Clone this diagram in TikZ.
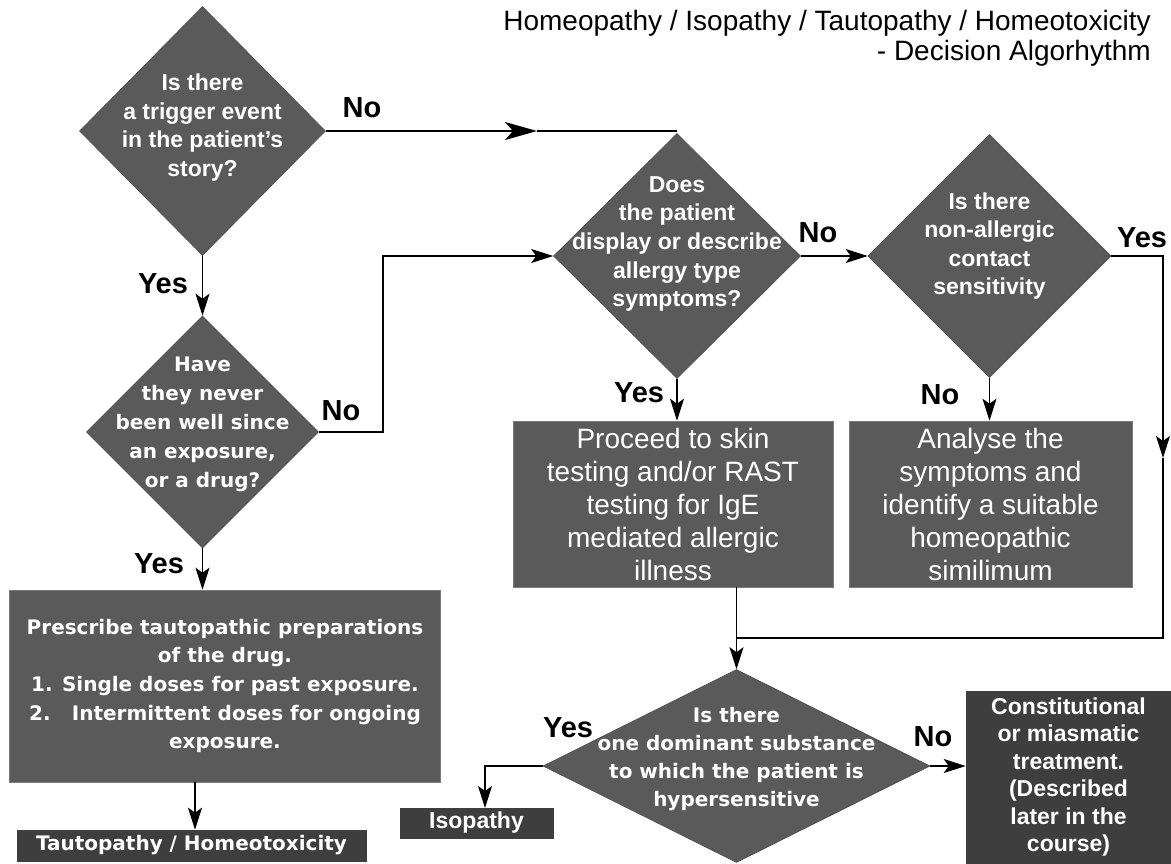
\documentclass[tikz,border=0pt]{standalone}
\usepackage{fontspec}
\setmainfont{Liberation Sans}
\newfontfamily\verd{DejaVu Sans}
\usetikzlibrary{shapes.geometric,arrows.meta}
\definecolor{fillg}{HTML}{5A5A5A}
\definecolor{darkg}{HTML}{3E3E3E}
\begin{document}
\begin{tikzpicture}[x=1pt,y=-1pt,
  dia/.style={shape=diamond, fill=fillg, draw=fillg!85!black, line width=0.6pt, inner sep=0pt},
  box/.style={shape=rectangle, fill=fillg, draw=fillg!80!white, line width=0.6pt, inner sep=0pt, text=white, align=center},
  dbox/.style={box, fill=darkg, draw=darkg},
  dtxt/.style={text=white, align=center, inner sep=0pt},
  lbl/.style={font=\fontsize{29}{32}\selectfont\bfseries, inner sep=0pt},
  ln/.style={line width=1.2pt},
  arr/.style={line width=1.2pt, -{Stealth[length=22pt,width=14pt,inset=5pt]}},
  bigarr/.style={line width=1.2pt, -{Stealth[length=32pt,width=18pt,inset=8pt]}},
  fA/.style={font=\fontsize{23}{28.5}\selectfont\bfseries},
  fV/.style={font=\verd\fontsize{20}{28.7}\selectfont\bfseries},
  fR/.style={font=\fontsize{28}{33}\selectfont},
]
\useasboundingbox[fill=white] (0,0) rectangle (1171,863);

% title
\node[anchor=base east, inner sep=0pt, font=\fontsize{28}{30}\selectfont] (title1) at (1151,30) {Homeopathy / Isopathy / Tautopathy / Homeotoxicity};
\node[anchor=base east, inner sep=0pt, font=\fontsize{28}{30}\selectfont] (title2) at (1151,60) {- Decision Algorhythm};

% diamonds
\node[dia, minimum width=246pt, minimum height=249pt] (d1) at (202.5,131) {};
\node[dtxt, fA] (d1t) at (202.5,127.5) {Is there\\a trigger event\\in the patient's\\story?};

\node[dia, minimum width=232pt, minimum height=232pt] (d3) at (202.5,432) {};
\node[dtxt, fV, font=\verd\fontsize{20}{29}\selectfont\bfseries] (d3t) at (202.5,424) {Have\\they never\\been well since\\an exposure,\\or a drug?};

\node[dia, minimum width=247pt, minimum height=245pt] (d2) at (677,256) {};
\node[dtxt, fA, font=\fontsize{23}{28.7}\selectfont\bfseries] (d2t) at (677,244) {Does\\the patient\\display or describe\\allergy type\\symptoms?};

\node[dia, minimum width=243pt, minimum height=243pt] (d5) at (989.5,256) {};
\node[dtxt, fA, font=\fontsize{23}{28.5}\selectfont\bfseries] (d5t) at (989.5,246) {Is there\\non-allergic\\contact\\sensitivity};

\node[dia, minimum width=387pt, minimum height=193pt] (d4) at (736.5,766) {};
\node[dtxt, fV, font=\verd\fontsize{20}{28.3}\selectfont\bfseries] (d4t) at (736.5,759) {Is there\\one dominant substance\\to which the patient is\\hypersensitive};

% boxes
\node[box, fV, minimum width=431pt, minimum height=192pt] (pre) at (225,686) {Prescribe tautopathic preparations\\of the drug.\\1. Single doses for past exposure.\\2.\hspace{12pt} Intermittent doses for ongoing\\exposure.};
\node[dbox, fV, minimum width=349pt, minimum height=31pt] (taut) at (191.5,845.5) {Tautopathy / Homeotoxicity};

\node[box, fR, minimum width=320pt, minimum height=166pt] (pr) at (673,504) {Proceed to skin\\testing and/or RAST\\testing for IgE\\mediated allergic\\illness};
\node[box, fR, minimum width=283pt, minimum height=166pt] (an) at (990.5,504) {Analyse the\\symptoms and\\identify a suitable\\homeopathic\\similimum};

\node[dbox, font=\fontsize{23}{27.5}\selectfont\bfseries, minimum width=153pt, minimum height=30pt] (iso) at (476.5,823) {Isopathy};
\node[dbox, font=\fontsize{23}{27.5}\selectfont\bfseries, minimum width=205pt, minimum height=172pt] (con) at (1068.5,777) {Constitutional\\or miasmatic\\treatment.\\(Described\\later in the\\course)};

% coordinates
\coordinate (m1) at (537,131);
\coordinate (c1) at (383,432);
\coordinate (m2) at (1163,458);
\coordinate (j1) at (736.5,638);
\coordinate (c2) at (485,808);

% connectors
\draw[bigarr] (d1.east) -- (m1);
\draw[ln] (m1) -- (d2.north |- m1);
\draw[arr] (d1.south) -- (d3.north);
\draw[arr] (d3.east) -- (c1) |- (d2.west);
\draw[arr] (d3.south) -- (d3.south |- pre.north);
\draw[arr] ([xshift=-30pt]pre.south) -- ([xshift=-30pt]pre.south |- taut.north);
\draw[arr] (d2.east) -- (d5.west);
\draw[arr] (d2.south) -- (d2.south |- pr.north);
\draw[arr] (d5.south) -- (d5.south |- an.north);
\draw[arr] (d5.east) -| (m2);
\draw[ln] (m2) |- (j1);
\draw[arr] (d4.north |- pr.south) -- (d4.north);
\draw[arr] (d4.west) -| (c2);
\draw[arr] (d4.east) -- (con.west |- d4.east);

% labels
\node[lbl] (l1) at (362,108) {No};
\node[lbl] (l2) at (163,284) {Yes};
\node[lbl] (l3) at (341,411) {No};
\node[lbl] (l4) at (159,564) {Yes};
\node[lbl] (l5) at (818,233) {No};
\node[lbl] (l6) at (639,393) {Yes};
\node[lbl] (l7) at (1142,238) {Yes};
\node[lbl] (l8) at (940,395) {No};
\node[lbl] (l9) at (568,728) {Yes};
\node[lbl] (l10) at (933,737) {No};
\end{tikzpicture}
\end{document}
